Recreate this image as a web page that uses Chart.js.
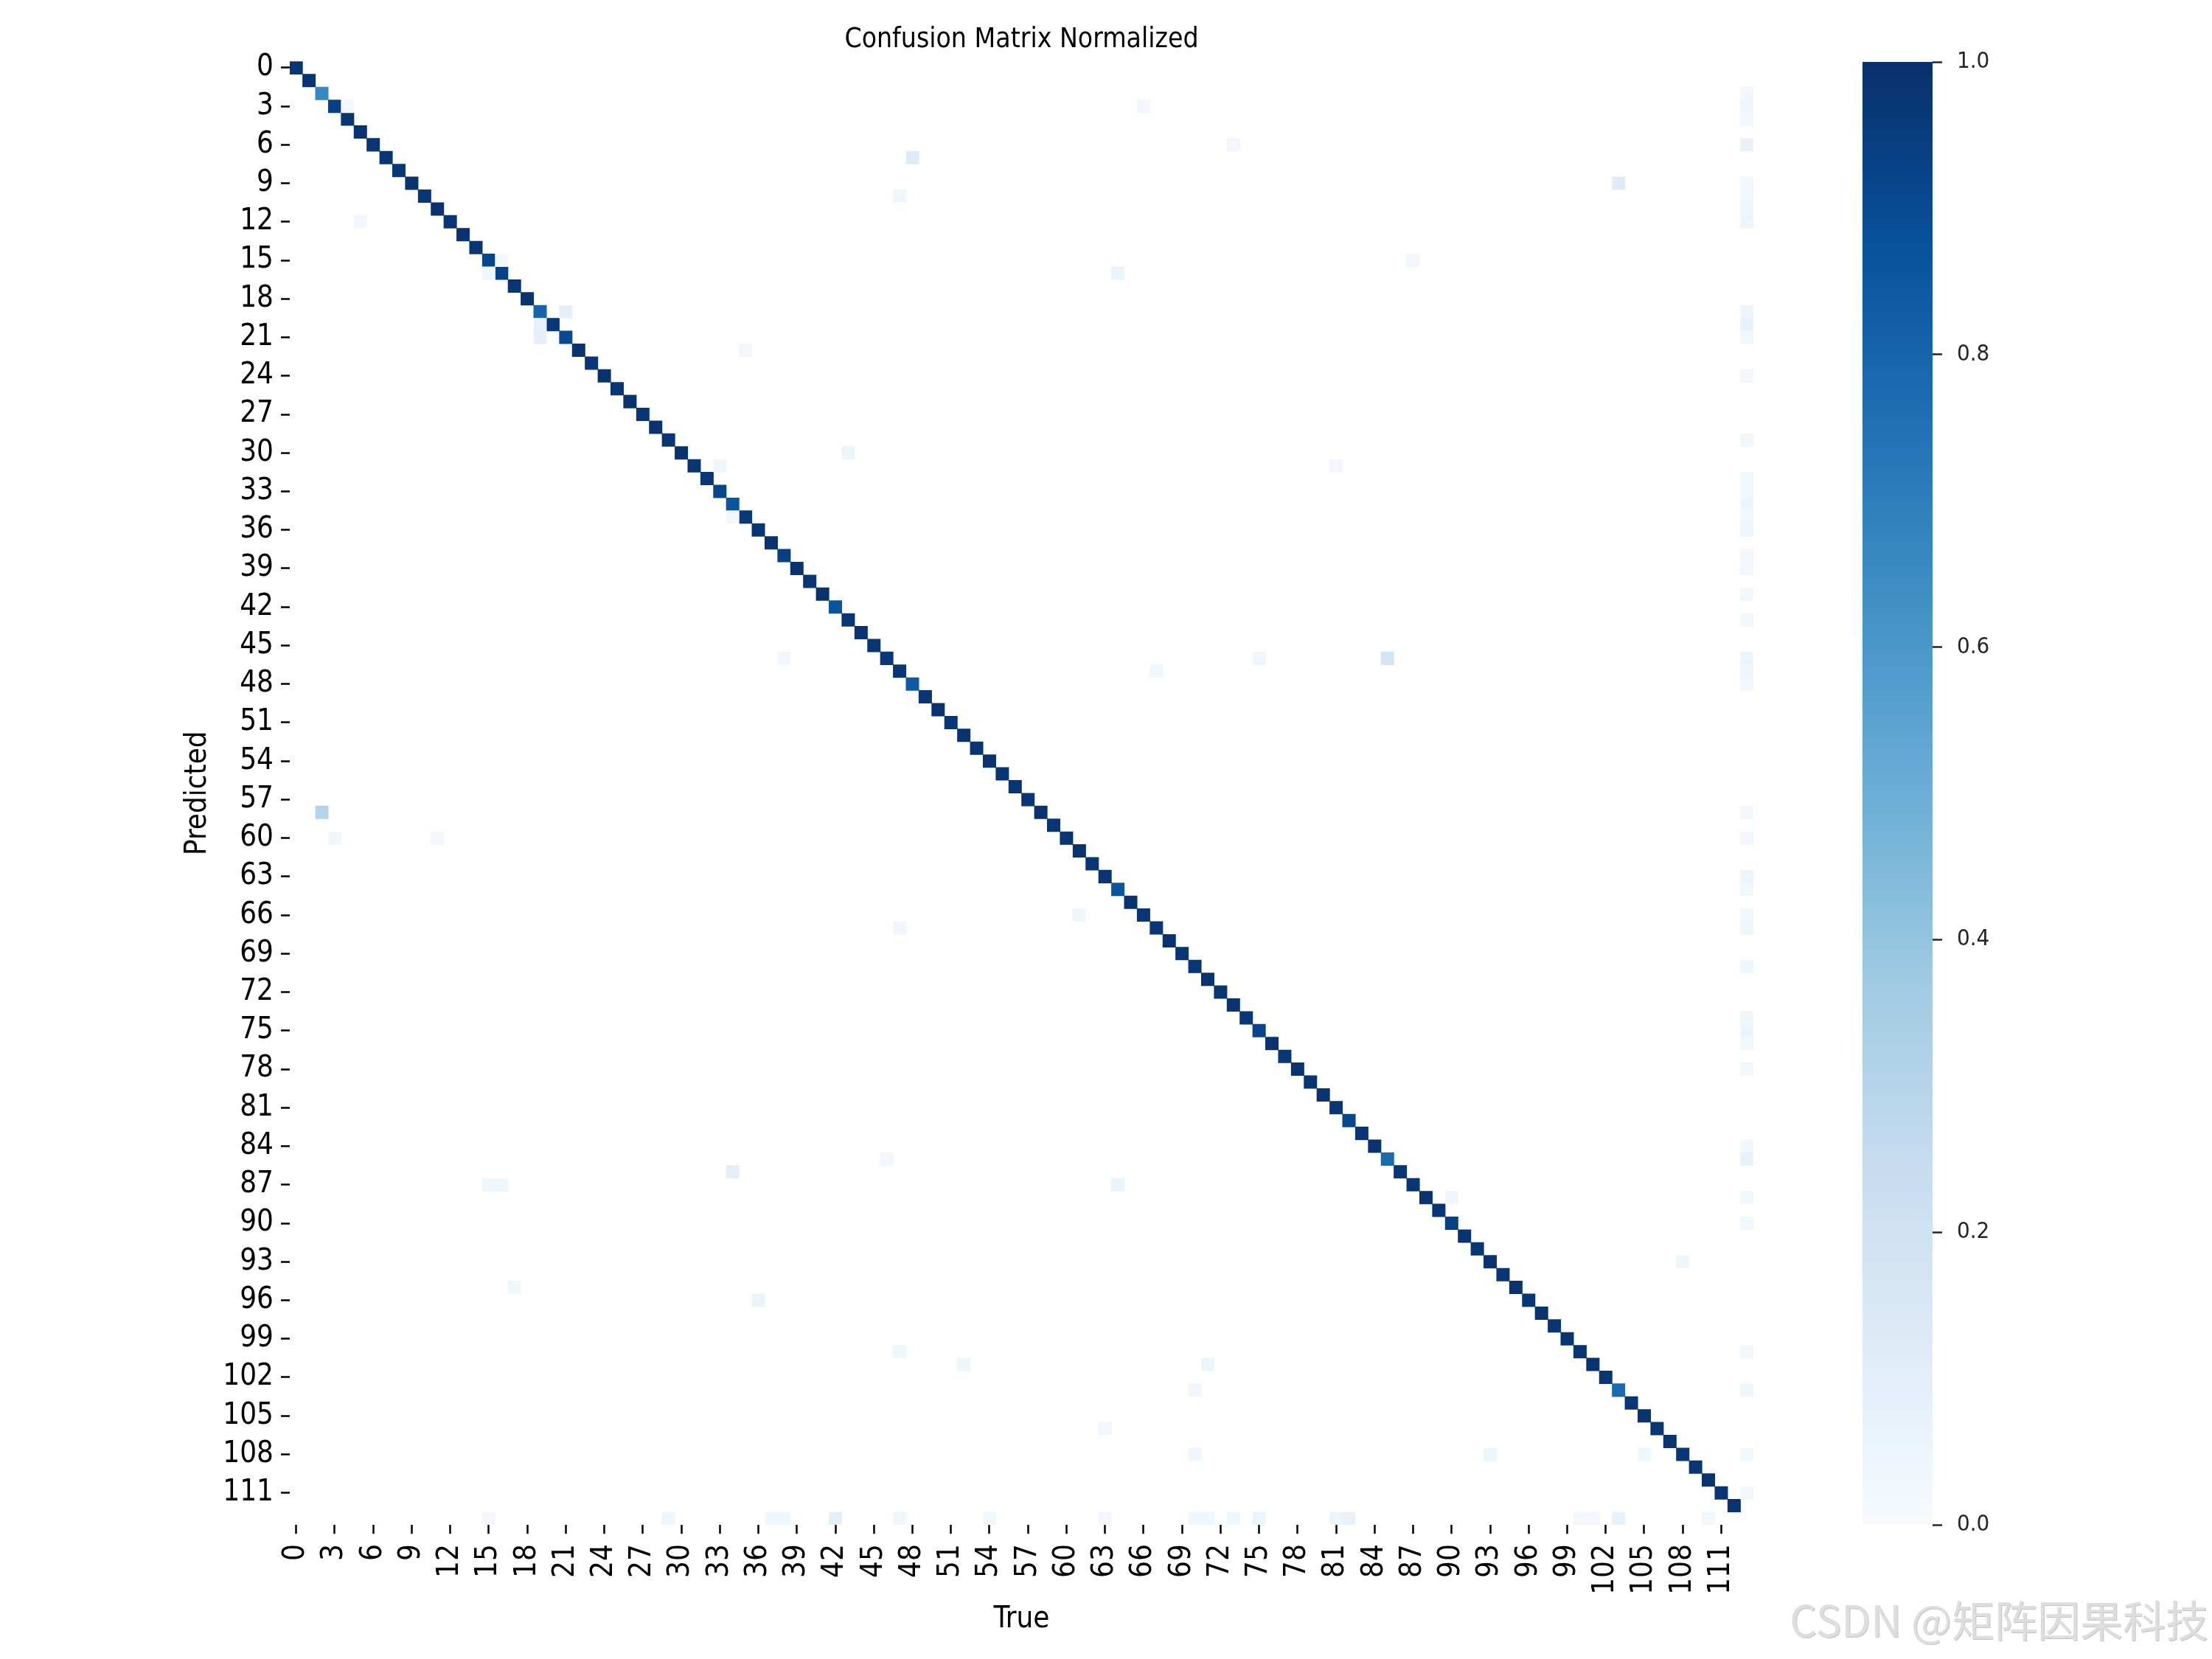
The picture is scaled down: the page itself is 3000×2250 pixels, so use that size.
<!DOCTYPE html>
<html>
<head>
<meta charset="utf-8">
<script src="https://cdn.jsdelivr.net/npm/chart.js@4.4.1/dist/chart.umd.min.js"></script>
<style>
  body { margin: 0; background: #fff; width: 3000px; height: 2250px; position: relative; overflow: hidden; }
  canvas { position: absolute; top: 0; }
  #heat { left: 0; }
  #cbar { left: 2450px; }
  #mark { position: absolute; right: 5px; top: 2166px; font: 58px 'Noto Sans CJK SC', sans-serif; color: #dedede;
          text-shadow: 1px 1px 0 #c4c4c4; line-height: 1; white-space: nowrap; }
</style>
</head>
<body>
<canvas id="heat" width="3000" height="2250"></canvas>
<canvas id="cbar" width="550" height="2250"></canvas>
<div id="mark">CSDN @矩阵因果科技</div>
<script>
// classes 0..112, index 113 is the background class
const nClasses = 113;

const tickValues = [0, 3, 6, 9, 12, 15, 18, 21, 24, 27, 30, 33, 36, 39, 42, 45, 48, 51, 54, 57,
  60, 63, 66, 69, 72, 75, 78, 81, 84, 87, 90, 93, 96, 99, 102, 105, 108, 111];
const tickLabels = ['0', '3', '6', '9', '12', '15', '18', '21', '24', '27', '30', '33', '36', '39',
  '42', '45', '48', '51', '54', '57', '60', '63', '66', '69', '72', '75', '78', '81', '84', '87',
  '90', '93', '96', '99', '102', '105', '108', '111'];

// diagonal (correct) values, class 0..112
const diagValues = [
  0.98, 0.99, 0.66, 0.94, 0.98, 0.99, 0.98, 0.98, 0.97, 0.99,
  0.98, 0.99, 0.98, 0.99, 0.98, 0.92, 0.93, 0.98, 0.99, 0.80,
  0.97, 0.90, 0.99, 0.98, 0.99, 0.98, 0.99, 0.98, 0.99, 0.98,
  0.99, 0.98, 0.98, 0.92, 0.86, 0.97, 0.98, 0.99, 0.94, 0.99,
  0.98, 0.99, 0.86, 0.98, 0.99, 0.98, 0.97, 0.98, 0.84, 0.98,
  0.99, 0.98, 0.99, 0.98, 0.99, 0.98, 0.99, 0.98, 0.99, 0.98,
  0.98, 0.99, 0.98, 0.98, 0.86, 0.99, 0.98, 0.98, 0.99, 0.98,
  0.98, 0.99, 0.98, 0.99, 0.98, 0.92, 0.99, 0.98, 0.99, 0.98,
  0.99, 0.98, 0.92, 0.98, 0.99, 0.78, 0.98, 0.98, 0.99, 0.98,
  0.94, 0.99, 0.98, 0.99, 0.98, 0.99, 0.98, 0.99, 0.98, 0.99,
  0.98, 0.99, 0.98, 0.78, 0.98, 0.99, 0.98, 0.99, 0.98, 0.98,
  0.99, 0.98, 0.99
];

// off-diagonal confusions: [predicted, true, value]
const confusions = [
  [3, 4, 0.02], [3, 66, 0.03], [6, 73, 0.03], [7, 48, 0.12], [9, 103, 0.12], [10, 47, 0.04],
  [12, 5, 0.03], [15, 16, 0.03], [15, 87, 0.03], [16, 15, 0.04], [16, 64, 0.06], [19, 21, 0.09],
  [20, 19, 0.08], [21, 19, 0.09], [22, 35, 0.03], [30, 43, 0.05], [31, 33, 0.04], [31, 81, 0.03],
  [35, 34, 0.03], [46, 38, 0.03], [46, 75, 0.04], [46, 85, 0.18], [47, 67, 0.04], [58, 2, 0.30],
  [60, 3, 0.04], [60, 11, 0.03], [66, 61, 0.04], [67, 47, 0.04], [85, 46, 0.03], [86, 34, 0.10],
  [87, 15, 0.04], [87, 16, 0.04], [87, 64, 0.06], [88, 90, 0.04], [93, 108, 0.04], [95, 17, 0.04],
  [96, 36, 0.06], [100, 47, 0.04], [101, 52, 0.04], [101, 71, 0.05], [103, 70, 0.03], [106, 63, 0.03],
  [108, 70, 0.04], [108, 93, 0.05], [108, 105, 0.04]
];

// true = background: [predicted, value]
const backgroundCol = [
  [2, 0.03], [3, 0.04], [4, 0.03], [6, 0.07], [9, 0.03], [10, 0.03], [11, 0.04], [12, 0.05],
  [19, 0.05], [20, 0.07], [21, 0.03], [24, 0.03], [29, 0.04], [32, 0.03], [33, 0.03], [34, 0.05],
  [35, 0.03], [36, 0.04], [38, 0.03], [39, 0.03], [41, 0.03], [43, 0.03], [46, 0.05], [47, 0.04],
  [48, 0.03], [58, 0.03], [60, 0.03], [63, 0.05], [64, 0.03], [66, 0.03], [67, 0.04], [70, 0.04],
  [74, 0.04], [75, 0.05], [76, 0.03], [78, 0.03], [84, 0.03], [85, 0.07], [88, 0.03], [90, 0.03],
  [100, 0.03], [103, 0.04], [108, 0.03], [111, 0.03]
];

// predicted = background: [true, value]
const backgroundRow = [
  [15, 0.03], [29, 0.04], [37, 0.04], [38, 0.04], [42, 0.09], [47, 0.04], [54, 0.03], [63, 0.03],
  [70, 0.04], [71, 0.04], [73, 0.04], [75, 0.05], [81, 0.05], [82, 0.08], [100, 0.03], [101, 0.03],
  [103, 0.07], [110, 0.03]
];

const colorbarRange = [0, 1];

// matplotlib "Blues"
const bluesStops = ['#f7fbff', '#deebf7', '#c6dbef', '#9ecae1', '#6baed6', '#4292c6', '#2171b5', '#08519c', '#08306b'];

function hexToRgb(h) {
  return [parseInt(h.slice(1, 3), 16), parseInt(h.slice(3, 5), 16), parseInt(h.slice(5, 7), 16)];
}

function blues(v) {
  const t = Math.min(Math.max(v, 0), 1) * 8;
  const i = Math.min(Math.floor(t), 7);
  const f = t - i;
  const a = hexToRgb(bluesStops[i]), b = hexToRgb(bluesStops[i + 1]);
  const c = a.map((x, k) => Math.round(x + (b[k] - x) * f));
  return `rgb(${c[0]},${c[1]},${c[2]})`;
}

const cells = [];
diagValues.forEach((v, i) => cells.push({ x: i, y: i, v }));
confusions.forEach(([r, c, v]) => cells.push({ x: c, y: r, v }));
backgroundCol.forEach(([r, v]) => cells.push({ x: nClasses, y: r, v }));
backgroundRow.forEach(([c, v]) => cells.push({ x: c, y: nClasses, v }));

const font = "'DejaVu Sans Condensed', 'DejaVu Sans', sans-serif";

function cellSide(chart) {
  const xs = chart.scales.x;
  return Math.abs(xs.getPixelForValue(1) - xs.getPixelForValue(0));
}

// heatmap
new Chart(document.getElementById('heat'), {
  type: 'scatter',
  data: {
    datasets: [{
      data: cells,
      pointStyle: 'rect',
      borderWidth: 0,
      backgroundColor: ctx => ctx.raw ? blues(ctx.raw.v) : '#fff',
      pointRadius: ctx => (cellSide(ctx.chart) + 0.6) * Math.SQRT1_2,
      pointHoverRadius: ctx => (cellSide(ctx.chart) + 0.6) * Math.SQRT1_2
    }]
  },
  options: {
    responsive: false,
    animation: false,
    events: [],
    layout: { padding: { right: 622 } },
    plugins: {
      legend: { display: false },
      tooltip: { enabled: false },
      title: {
        display: true, text: 'Confusion Matrix Normalized', fullSize: false, color: '#000',
        font: { family: font, size: 37, weight: 'normal' }, padding: { top: 31.8, bottom: 7 }
      }
    },
    scales: {
      x: {
        type: 'linear', min: -0.5, max: nClasses + 0.5,
        afterBuildTicks: s => { s.ticks = tickValues.map(v => ({ value: v })); },
        afterFit: s => { s.height = 181.8; },
        ticks: {
          autoSkip: false, minRotation: 90, maxRotation: 90, padding: 14, color: '#000',
          font: { family: font, size: 40 }, callback: (v, i) => tickLabels[i]
        },
        grid: { display: true, drawOnChartArea: false, drawTicks: true, tickLength: 12, tickWidth: 2.5, tickColor: '#000' },
        border: { display: false },
        title: { display: true, text: 'True', color: '#000', font: { family: font, size: 40 }, padding: { top: 0, bottom: 29 } }
      },
      y: {
        type: 'linear', reverse: true, min: -0.5, max: nClasses + 0.5,
        afterBuildTicks: s => { s.ticks = tickValues.map(v => ({ value: v })); },
        afterFit: s => { s.width = 393; },
        ticks: {
          autoSkip: false, padding: 10, color: '#000',
          font: { family: font, size: 40 }, callback: (v, i) => tickLabels[i]
        },
        grid: { display: true, drawOnChartArea: false, drawTicks: true, tickLength: 12, tickWidth: 2.5, tickColor: '#000' },
        border: { display: false },
        title: { display: true, text: 'Predicted', color: '#000', font: { family: font, size: 40 }, padding: { top: 245, bottom: 0 } }
      }
    }
  }
});

// colorbar
new Chart(document.getElementById('cbar'), {
  type: 'bar',
  data: {
    labels: [''],
    datasets: [{
      data: [colorbarRange],
      barPercentage: 1,
      categoryPercentage: 1,
      borderWidth: 0,
      backgroundColor: ctx => {
        const a = ctx.chart.chartArea;
        if (!a) return bluesStops[8];
        const g = ctx.chart.ctx.createLinearGradient(0, a.bottom, 0, a.top);
        bluesStops.forEach((c, i) => g.addColorStop(i / 8, c));
        return g;
      }
    }]
  },
  options: {
    responsive: false,
    animation: false,
    events: [],
    layout: { padding: { left: 76, top: 84, bottom: 182 } },
    plugins: { legend: { display: false }, tooltip: { enabled: false } },
    scales: {
      x: { display: false },
      y: {
        position: 'right', min: colorbarRange[0], max: colorbarRange[1],
        afterFit: s => { s.width = 379; },
        ticks: { stepSize: 0.2, padding: 20, color: '#262626', font: { family: font, size: 31 }, callback: v => v.toFixed(1) },
        grid: { display: true, drawOnChartArea: false, drawTicks: true, tickLength: 13, tickWidth: 2.5, tickColor: '#262626' },
        border: { display: false }
      }
    }
  }
});
</script>
</body>
</html>
